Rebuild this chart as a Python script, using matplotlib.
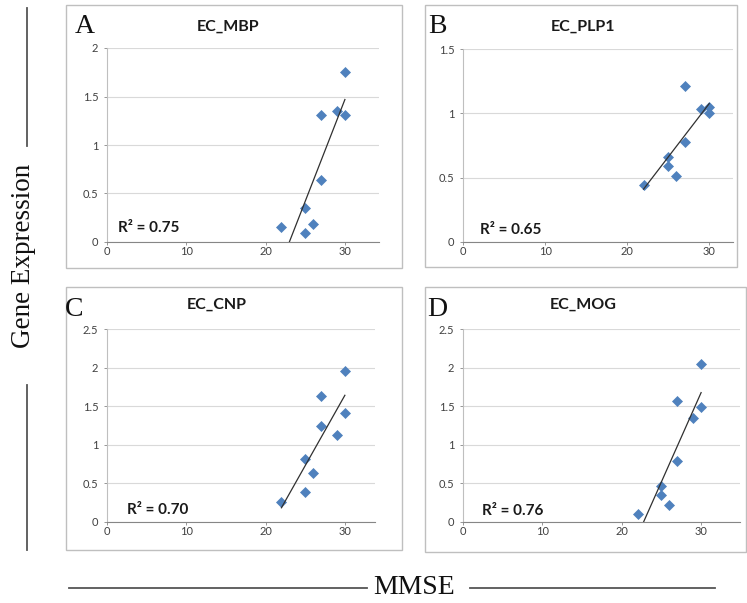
import matplotlib.pyplot as plt
import numpy as np
from matplotlib.lines import Line2D
from matplotlib.patches import Rectangle

# ===== Data =====
panel_letters = ["A", "B", "C", "D"]
panel_titles = ["EC_MBP", "EC_PLP1", "EC_CNP", "EC_MOG"]
r2_labels = ["R² = 0.75", "R² = 0.65", "R² = 0.70", "R² = 0.76"]

mmse = [22, 25, 25, 26, 27, 27, 29, 30, 30]
mbp = [0.15, 0.35, 0.09, 0.19, 0.64, 1.31, 1.35, 1.31, 1.75]
plp1 = [0.44, 0.66, 0.59, 0.51, 1.21, 0.78, 1.03, 1.05, 1.00]
cnp = [0.26, 0.82, 0.39, 0.64, 1.63, 1.25, 1.13, 1.96, 1.41]
mog = [0.10, 0.46, 0.35, 0.22, 1.57, 0.79, 1.35, 2.05, 1.49]
series = [mbp, plp1, cnp, mog]

y_max = [2.0, 1.5, 2.5, 2.5]
x_max = [34.3, 32.9, 33.8, 34.9]
x_ticks = [0, 10, 20, 30]

# ===== Styling / layout (pixels) =====
W, H = 747, 603
blue = "#4F81BD"
tick_col = "#404040"
font_sans = "Lato"
font_serif = "Liberation Serif"

# plot areas: left, right, top, bottom
plot_px = [(107, 379, 48, 242), (463, 733, 49, 242),
           (107, 375, 329, 522), (463, 740, 329, 522)]
# panel boxes: left, right, top, bottom
box_px = [(66, 402, 5, 268), (425, 737, 5, 267),
          (66, 402, 287, 550), (425, 746, 287, 552)]
title_px = [(228, 27), (583, 27), (217, 305), (583, 305)]
letter_px = [(75, 33), (428, 33), (65, 316), (427, 316)]
r2_px = [(118, 228), (480, 230), (127, 510), (482, 511)]


def fx(x):
    return x / W


def fy(y):
    return 1 - y / H


fig = plt.figure(figsize=(W / 100, H / 100), dpi=100)

for i in range(4):
    l, r, t, b = box_px[i]
    fig.add_artist(Rectangle((fx(l), fy(b)), fx(r - l), (b - t) / H,
                             transform=fig.transFigure, fill=False,
                             edgecolor="#BFBFBF", linewidth=1))

    l, r, t, b = plot_px[i]
    ax = fig.add_axes([fx(l), fy(b), fx(r - l), (b - t) / H])
    y = series[i]
    ax.plot(mmse, y, linestyle="none", marker="D", markersize=5,
            color=blue, markeredgewidth=0.5)

    # linear trendline over the data range
    k, c = np.polyfit(mmse, y, 1)
    xs = np.array([min(mmse), max(mmse)])
    ax.plot(xs, k * xs + c, color="#303030", linewidth=0.9)

    ax.set_xlim(0, x_max[i])
    ax.set_ylim(0, y_max[i])
    ax.set_xticks(x_ticks)
    yt = np.arange(0, y_max[i] + 0.01, 0.5)
    ax.set_yticks(yt)
    ax.set_yticklabels([f"{v:g}" for v in yt])
    ax.grid(axis="y", color="#D9D9D9", linewidth=0.8)
    ax.set_axisbelow(True)

    for s in ["top", "right"]:
        ax.spines[s].set_visible(False)
    ax.spines["left"].set_color("#BFBFBF")
    ax.spines["bottom"].set_color("#868686")
    ax.spines["left"].set_linewidth(0.8)
    ax.spines["bottom"].set_linewidth(0.8)

    ax.tick_params(axis="both", labelsize=8, labelcolor=tick_col,
                   colors="#868686", length=2.2, width=0.6)
    ax.tick_params(axis="x", pad=1)
    ax.tick_params(axis="y", pad=4)
    for lab in ax.get_xticklabels() + ax.get_yticklabels():
        lab.set_fontfamily(font_sans)

    fig.text(fx(title_px[i][0]), fy(title_px[i][1]), panel_titles[i],
             ha="center", va="center", fontsize=11.5, fontweight="bold",
             fontfamily=font_sans, color="#1a1a1a")
    fig.text(fx(letter_px[i][0]), fy(letter_px[i][1]), panel_letters[i],
             ha="left", va="baseline", fontsize=20, fontfamily=font_serif,
             color="#111111")
    fig.text(fx(r2_px[i][0]), fy(r2_px[i][1]), r2_labels[i],
             ha="left", va="center", fontsize=11, fontweight="bold",
             fontfamily=font_sans, color="#1a1a1a")

# ===== Shared axis labels with rules =====
line_kw = dict(transform=fig.transFigure, color="#555555", linewidth=1.3)
fig.add_artist(Line2D([fx(27), fx(27)], [fy(8), fy(146)], **line_kw))
fig.add_artist(Line2D([fx(27), fx(27)], [fy(385), fy(550)], **line_kw))
fig.text(fx(24), fy(256), "Gene Expression", rotation=90, ha="center",
         va="center", fontsize=19.5, fontfamily=font_serif, color="#111111")

fig.add_artist(Line2D([fx(69), fx(367)], [fy(588), fy(588)], **line_kw))
fig.add_artist(Line2D([fx(470), fx(715)], [fy(588), fy(588)], **line_kw))
fig.text(fx(414), fy(588), "MMSE", ha="center", va="center",
         fontsize=20, fontfamily=font_serif, color="#111111")

fig.savefig("out.png", dpi=100)
